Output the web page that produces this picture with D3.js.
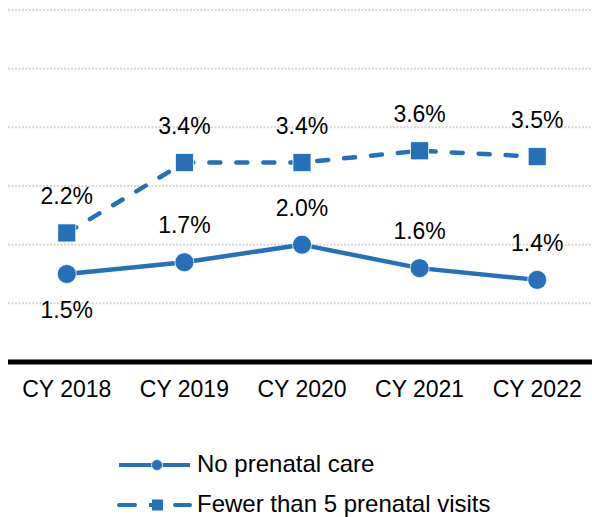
<!DOCTYPE html>
<html>
<head>
<meta charset="utf-8">
<script src="https://cdn.jsdelivr.net/npm/d3@7"></script>
<style>
  html, body { margin: 0; padding: 0; background: #fff; }
  svg { display: block; font-family: "Liberation Sans", Arial, sans-serif; }
</style>
</head>
<body>
<svg id="chart" width="592" height="517"></svg>
<script>
// Share of births by prenatal care status, by calendar year
const years = ["CY 2018", "CY 2019", "CY 2020", "CY 2021", "CY 2022"];
const noPrenatalCare = [1.5, 1.7, 2.0, 1.6, 1.4];
const fewerThan5Visits = [2.2, 3.4, 3.4, 3.6, 3.5];
const yTicks = [1, 2, 3, 4, 5, 6];
// where each "No prenatal care" value label sits relative to its point
const noCareLabelSide = ["below", "above", "above", "above", "above"];

const seriesNames = ["No prenatal care", "Fewer than 5 prenatal visits"];
const blue = "#2570b8";

const svg = d3.select("#chart");

const x = d3.scaleBand().domain(years).range([8, 596]).padding(0);
const cx = d => x(d) + x.bandwidth() / 2;
const y = d3.scaleLinear().domain([0, 6]).range([362, 10]);

// dotted horizontal gridlines
svg.append("g")
  .selectAll("line")
  .data(yTicks)
  .join("line")
  .attr("x1", 8).attr("x2", 592)
  .attr("y1", d => y(d)).attr("y2", d => y(d))
  .attr("stroke", "#d6d6d6")
  .attr("stroke-width", 2)
  .attr("stroke-dasharray", "2,1.5");

// x axis
const xAxis = svg.append("g")
  .attr("transform", `translate(0,${y(0)})`)
  .call(d3.axisBottom(x).tickSize(0).tickPadding(0));
xAxis.select(".domain").remove();
xAxis.selectAll(".tick text")
  .attr("y", 35)
  .attr("dy", 0)
  .attr("fill", "#000")
  .style("font-size", "23px")
  .style("font-family", "'Liberation Sans', Arial, sans-serif");
svg.append("line")
  .attr("x1", 8).attr("x2", 592)
  .attr("y1", y(0)).attr("y2", y(0))
  .attr("stroke", "#000")
  .attr("stroke-width", 5);

const line = d3.line()
  .x((d, i) => cx(years[i]))
  .y(d => y(d));

// dashed series
svg.append("path")
  .datum(fewerThan5Visits)
  .attr("d", line)
  .attr("fill", "none")
  .attr("stroke", blue)
  .attr("stroke-width", 4.5)
  .attr("stroke-linecap", "round")
  .attr("stroke-dasharray", "11,16");

// solid series
svg.append("path")
  .datum(noPrenatalCare)
  .attr("d", line)
  .attr("fill", "none")
  .attr("stroke", blue)
  .attr("stroke-width", 4.5);

const sq = 18;
svg.append("g")
  .selectAll("rect")
  .data(fewerThan5Visits)
  .join("rect")
  .attr("x", (d, i) => cx(years[i]) - sq / 2)
  .attr("y", d => y(d) - sq / 2)
  .attr("width", sq).attr("height", sq)
  .attr("fill", blue)
  .attr("stroke", "#fff")
  .attr("stroke-width", 0.75);

svg.append("g")
  .selectAll("circle")
  .data(noPrenatalCare)
  .join("circle")
  .attr("cx", (d, i) => cx(years[i]))
  .attr("cy", d => y(d))
  .attr("r", 9.5)
  .attr("fill", blue)
  .attr("stroke", "#fff")
  .attr("stroke-width", 0.75);

// value labels
const fmt = d => d.toFixed(1) + "%";
svg.append("g")
  .selectAll("text")
  .data(fewerThan5Visits)
  .join("text")
  .attr("x", (d, i) => cx(years[i]))
  .attr("y", d => y(d) - 29)
  .attr("text-anchor", "middle")
  .style("font-size", "23px")
  .text(fmt);

svg.append("g")
  .selectAll("text")
  .data(noPrenatalCare)
  .join("text")
  .attr("x", (d, i) => cx(years[i]))
  .attr("y", (d, i) => noCareLabelSide[i] === "below" ? y(d) + 44 : y(d) - 29)
  .attr("text-anchor", "middle")
  .style("font-size", "23px")
  .text(fmt);

// legend
const legend = svg.append("g");
const rows = [
  { name: seriesNames[0], yPos: 465, dashed: false },
  { name: seriesNames[1], yPos: 505, dashed: true }
];
rows.forEach(r => {
  const g = legend.append("g");
  if (r.dashed) {
    [[119, 135], [175, 190]].forEach(([a, b]) => {
      g.append("line")
        .attr("x1", a).attr("x2", b)
        .attr("y1", r.yPos).attr("y2", r.yPos)
        .attr("stroke", blue).attr("stroke-width", 4)
        .attr("stroke-linecap", "round");
    });
    g.append("line")
      .attr("x1", 149).attr("x2", 152)
      .attr("y1", r.yPos).attr("y2", r.yPos)
      .attr("stroke", blue).attr("stroke-width", 4);
    g.append("rect")
      .attr("x", 152).attr("y", r.yPos - 5.5)
      .attr("width", 11).attr("height", 11)
      .attr("fill", blue);
  } else {
    g.append("line")
      .attr("x1", 119).attr("x2", 190)
      .attr("y1", r.yPos).attr("y2", r.yPos)
      .attr("stroke", blue).attr("stroke-width", 4);
    g.append("circle")
      .attr("cx", 157).attr("cy", r.yPos)
      .attr("r", 5.5)
      .attr("fill", blue)
      .attr("stroke", "#fff").attr("stroke-width", 0.75);
  }
  g.append("text")
    .attr("x", 197)
    .attr("y", r.yPos + 7)
    .style("font-size", "24px")
    .text(r.name);
});
</script>
</body>
</html>
